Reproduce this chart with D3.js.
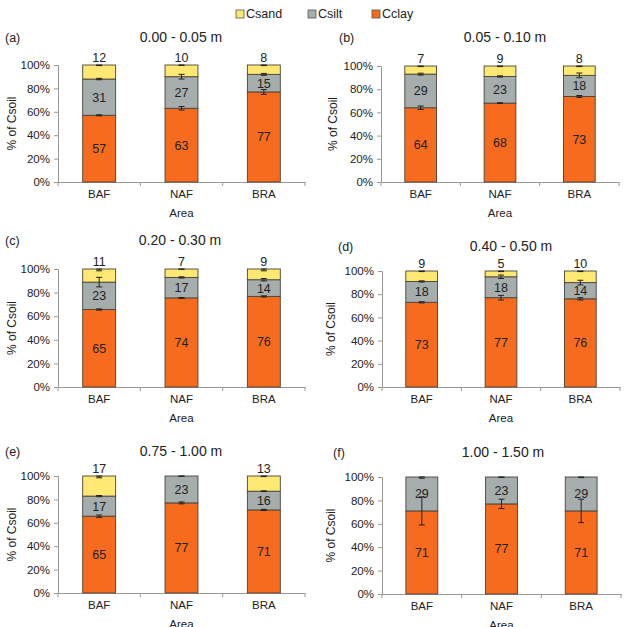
<!DOCTYPE html>
<html lang="en">
<head>
    <meta charset="UTF-8">
    <title>Csoil fractions</title>
    <style>
        body { margin: 0; background: #fff; }
        svg text { font-family: "Liberation Sans", Arial, sans-serif; fill: #222; }
    </style>
</head>
<body>
<div id="content"></div>
<script src="https://d3js.org/d3.v7.min.js"></script>
<script>

    // data: labels and values
    var areas = ["BAF", "NAF", "BRA"];
    var fractions = ["Cclay", "Csilt", "Csand"];
    var panelTags = ["(a)", "(b)", "(c)", "(d)", "(e)", "(f)"];
    var depths = ["0.00 - 0.05 m", "0.05 - 0.10 m", "0.20 - 0.30 m",
                  "0.40 - 0.50 m", "0.75 - 1.00 m", "1.00 - 1.50 m"];
    var yTicks = [0, 0.2, 0.4, 0.6, 0.8, 1];

    // values per panel, one row per area [BAF, NAF, BRA]
    var clay = [[57, 63, 77], [64, 68, 73], [65, 74, 76], [73, 77, 76], [65, 77, 71], [71, 77, 71]];
    var silt = [[31, 27, 15], [29, 23, 18], [23, 17, 14], [18, 18, 14], [17, 23, 16], [29, 23, 29]];
    var sand = [[12, 10, 8], [7, 9, 8], [11, 7, 9], [9, 5, 10], [17, 0, 13], [0, 0, 0]];

    // error bars (in % points) at the top of each segment
    var clayErr = [[0.4, 1.5, 2], [1.5, 0.3, 0.8], [0.5, 0.3, 0.5], [0.5, 2, 1], [1, 0.8, 0.5], [12, 4, 10]];
    var siltErr = [[0.6, 2, 0.8], [0.8, 0.5, 2], [4, 0.5, 1], [0.5, 1.5, 2], [0.5, 0.3, 0.3], [1, 0.3, 0.5]];
    var sandErr = [[0.5, 0.4, 0.5], [0.5, 0.5, 0.5], [1.5, 0.3, 1.5], [0.5, 0.5, 0.5], [1.5, 0, 0.5], [0, 0, 0]];

    var colors = {Csand: "#fde874", Csilt: "#a6adad", Cclay: "#f76b1f"};

    // panel frames: axis left, axis right, y of 100%, y of 0%, title centre x, title y, tag x
    var frames = [
        {x0: 58, x1: 305, y1: 65, y0: 182, tx: 181, ty: 37, lx: 5, ay: 12},
        {x0: 381, x1: 619, y1: 66, y0: 182, tx: 505, ty: 37, lx: 339, ay: 333},
        {x0: 58, x1: 305, y1: 269, y0: 387, tx: 180, ty: 240, lx: 5, ay: 12},
        {x0: 382, x1: 620, y1: 271, y0: 387, tx: 511, ty: 246, lx: 338, ay: 331},
        {x0: 58, x1: 305, y1: 476, y0: 593, tx: 181, ty: 451, lx: 5, ay: 12},
        {x0: 382, x1: 621, y1: 477, y0: 594, tx: 503, ty: 452, lx: 333, ay: 331}
    ];

    var svg = d3.select("#content").append("svg")
        .attr("width", 632)
        .attr("height", 627);

    // legend
    var legendItems = [
        {key: "Csand", x: 236},
        {key: "Csilt", x: 308},
        {key: "Cclay", x: 372}
    ];
    var legend = svg.append("g").attr("class", "legend");
    legendItems.forEach(function (d) {
        legend.append("rect")
            .attr("x", d.x).attr("y", 10)
            .attr("width", 8).attr("height", 8)
            .attr("fill", colors[d.key])
            .attr("stroke", "#555").attr("stroke-width", 0.8);
        legend.append("text")
            .attr("x", d.x + 10).attr("y", 18)
            .attr("font-size", 12.5)
            .text(d.key);
    });

    var stack = d3.stack()
        .keys(fractions)
        .offset(d3.stackOffsetExpand);

    function drawPanel(p) {
        var f = frames[p];
        var rows = areas.map(function (a, i) {
            return {
                area: a,
                Cclay: clay[p][i], Csilt: silt[p][i], Csand: sand[p][i],
                err: {Cclay: clayErr[p][i], Csilt: siltErr[p][i], Csand: sandErr[p][i]}
            };
        });

        var x = d3.scaleBand().domain(areas).range([f.x0, f.x1]).paddingInner(0).paddingOuter(0);
        var y = d3.scaleLinear().domain([0, 1]).range([f.y0, f.y1]);
        var barW = x.bandwidth() * 0.4;

        var g = svg.append("g").attr("class", "panel");

        // y axis
        var yAxis = d3.axisLeft(y).tickValues(yTicks).tickSize(4).tickPadding(4)
            .tickFormat(d3.format(".0%"));
        var yg = g.append("g").attr("transform", "translate(" + f.x0 + ",0)").call(yAxis);
        yg.selectAll("path, line").attr("stroke", "#999");
        yg.selectAll("text").attr("font-size", 11.5).attr("fill", "#222")
            .style("font-family", "Liberation Sans, Arial, sans-serif");

        // x axis with ticks at category boundaries
        var xAxis = d3.axisBottom(x).tickSize(0).tickPadding(8);
        var xg = g.append("g").attr("transform", "translate(0," + f.y0 + ")").call(xAxis);
        xg.select("path").attr("stroke", "#999");
        xg.selectAll("text").attr("font-size", 11.5).attr("fill", "#222")
            .style("font-family", "Liberation Sans, Arial, sans-serif");
        var bounds = areas.map(function (a) { return x(a); }).concat([f.x1]);
        g.selectAll(".xtick").data(bounds).enter().append("line")
            .attr("x1", function (d) { return d; })
            .attr("x2", function (d) { return d; })
            .attr("y1", f.y0).attr("y2", f.y0 + 4)
            .attr("stroke", "#999");

        // stacked bars
        var series = stack(rows);
        series.forEach(function (s) {
            g.selectAll(".seg-" + s.key).data(s).enter().append("rect")
                .attr("x", function (d) { return x(d.data.area) + (x.bandwidth() - barW) / 2; })
                .attr("width", barW)
                .attr("y", function (d) { return y(d[1]); })
                .attr("height", function (d) { return y(d[0]) - y(d[1]); })
                .attr("fill", colors[s.key])
                .attr("stroke", "#4a4438")
                .attr("stroke-width", function (d) { return d[1] - d[0] > 0 ? 0.9 : 0; });
        });

        // error bars
        series.forEach(function (s) {
            s.forEach(function (d) {
                var total = d.data.Cclay + d.data.Csilt + d.data.Csand;
                var e = d.data.err[s.key] / total;
                if (d[1] - d[0] <= 0 || e <= 0) return;
                var cx = x(d.data.area) + x.bandwidth() / 2;
                var top = Math.min(1, d[1] + e), bot = d[1] - e;
                var eg = g.append("g").attr("stroke", "#222").attr("stroke-width", 1);
                eg.append("line").attr("x1", cx).attr("x2", cx).attr("y1", y(top)).attr("y2", y(bot));
                eg.append("line").attr("x1", cx - 3).attr("x2", cx + 3).attr("y1", y(top)).attr("y2", y(top));
                eg.append("line").attr("x1", cx - 3).attr("x2", cx + 3).attr("y1", y(bot)).attr("y2", y(bot));
            });
        });

        // value labels: clay and silt inside, sand above the bar
        series.forEach(function (s) {
            g.selectAll(".lab-" + s.key).data(s.filter(function (d) { return d.data[s.key] > 0; }))
                .enter().append("text")
                .attr("x", function (d) { return x(d.data.area) + x.bandwidth() / 2; })
                .attr("y", function (d) {
                    return s.key === "Csand" ? y(1) - 3 : y((d[0] + d[1]) / 2) + 4.5;
                })
                .attr("text-anchor", "middle")
                .attr("font-size", 12.5)
                .text(function (d) { return d.data[s.key]; });
        });

        // titles and axis labels
        g.append("text").attr("x", f.tx).attr("y", f.ty + 5)
            .attr("text-anchor", "middle").attr("font-size", 14)
            .text(depths[p]);
        g.append("text").attr("x", f.lx).attr("y", f.ty + 5)
            .attr("font-size", 12.5).text(panelTags[p]);
        g.append("text").attr("x", (f.x0 + f.x1) / 2).attr("y", f.y0 + 35)
            .attr("text-anchor", "middle").attr("font-size", 11.5).text("Area");
        g.append("text")
            .attr("transform", "translate(" + (f.ay + 4) + "," + ((f.y0 + f.y1) / 2) + ") rotate(-90)")
            .attr("text-anchor", "middle").attr("font-size", 12)
            .text("% of Csoil");
    }

    for (var p = 0; p < frames.length; p++) {
        drawPanel(p);
    }

</script>
</body>
</html>
